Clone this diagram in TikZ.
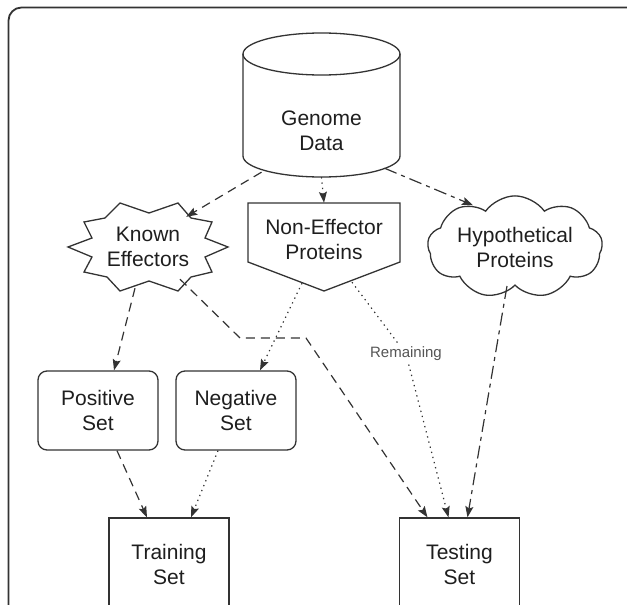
\documentclass[tikz,border=0pt]{standalone}
\usepackage{fontspec}
\setmainfont{Liberation Sans}
\usetikzlibrary{arrows.meta,calc,shapes.symbols}

\definecolor{ink}{HTML}{333333}
\definecolor{txt}{HTML}{1E1E1E}
\definecolor{softtxt}{HTML}{555555}

\begin{document}
\begin{tikzpicture}[x=1pt,y=-1pt,
  every node/.style={font=\fontsize{21}{25}\selectfont, text=txt, align=center, inner sep=0pt},
  outline/.style={draw=ink, line width=1.3pt},
  roundbox/.style={outline, rounded corners=9pt, minimum width=120pt, minimum height=79pt},
  plainbox/.style={outline, minimum width=120pt, minimum height=92pt},
  link/.style={draw=ink, line width=1.2pt, -{Stealth[length=11pt,width=8pt,inset=2pt]}},
  dashlink/.style={link, dash pattern=on 9pt off 6pt},
  dotlink/.style={link, dash pattern=on 1.3pt off 4pt},
  dashdotlink/.style={link, dash pattern=on 13pt off 5pt on 4pt off 5pt},
]
\useasboundingbox (0,0) rectangle (627,605);

% outer frame, open at the bottom and right
\begin{scope}
  \clip (0,0) rectangle (627,605);
  \draw[ink, line width=1.8pt, rounded corners=13pt] (8.5,7.5) rectangle (640,660);
\end{scope}

% Genome Data cylinder
\draw[outline, fill=white] (243,54) -- (243,156)
  arc[start angle=180, end angle=360, x radius=78.5pt, y radius=21pt] -- (400,54);
\draw[outline] (321.5,54) ellipse[x radius=78.5pt, y radius=21pt];
\node[draw=none, minimum width=157pt, minimum height=144pt] (gd) at (321.5,105) {};
\node (gdtext) at (321.5,131) {Genome\\Data};

% Known Effectors star
\draw[outline] (68,247) -- (92,238) -- (84,222) -- (105,218) -- (120,203) -- (149,213)
  -- (178,203) -- (191,218) -- (212,222) -- (205,238) -- (228,247) -- (205,257)
  -- (212,272) -- (191,277) -- (178,291) -- (149,281) -- (120,291) -- (107,277)
  -- (84,272) -- (92,257) -- cycle;
\node[draw=none, minimum width=160pt, minimum height=88pt] (ke) at (148,247) {Known\\Effectors};

% Non-Effector Proteins pentagon
\node[draw=none, minimum width=152pt, minimum height=88pt] (ne) at (324,247) {};
\draw[outline] (248,203) -- (400,203) -- (400,262) -- (324,291) -- (248,262) -- cycle;
\node (netext) at (324,240) {Non-Effector\\Proteins};

% Hypothetical Proteins cloud
\node[cloud, outline, cloud puffs=9, cloud puff arc=110, aspect=2.1,
      minimum width=175pt, minimum height=85pt] (hp) at (515,247) {Hypothetical\\Proteins};

% sets
\node[roundbox] (ps) at (98,410.5) {Positive\\Set};
\node[roundbox] (ns) at (236,410.5) {Negative\\Set};
\node[plainbox] (tr) at (169,564) {Training\\Set};
\node[plainbox] (ts) at (459.5,564) {Testing\\Set};

% connectors
\coordinate (remc) at (406,354);
\draw[dashlink] ($(gd.south)+(-60,-5)$) -- ($(ke.north east)+(-42,14)$);
\draw[dotlink] (gd.south) -- (ne.north);
\draw[dashdotlink] ($(gd.south)+(63,-9)$) -- ($(hp.north)+(-42,10)$);
\draw[dashlink] ($(ke.south)+(-13,-3)$) -- ($(ps.north)+(16,0)$);
\draw[dashlink] ($(ke.south)+(32,-12)$) -- (240,338) -- (306,338) -- ($(ts.north)+(-32,0)$);
\draw[dotlink] ($(ne.south)+(-22,-8)$) -- ($(ns.north)+(24,0)$);
\draw[dotlink] ($(ne.south)+(28,-9)$) -- (remc) -- ($(ts.north)+(-11,0)$);
\draw[dashdotlink] ($(hp.south)+(-8,0)$) -- ($(ts.north)+(8,0)$);
\draw[dashlink] ($(ps.south)+(19,0)$) -- ($(tr.north)+(-22,0)$);
\draw[dotlink] ($(ns.south)+(-18,0)$) -- ($(tr.north)+(22,0)$);

% label sitting on the dotted link
\node[font=\fontsize{15}{18}\selectfont, text=softtxt, fill=white, inner sep=2pt] (rem) at (remc) {Remaining};
\end{tikzpicture}
\end{document}
